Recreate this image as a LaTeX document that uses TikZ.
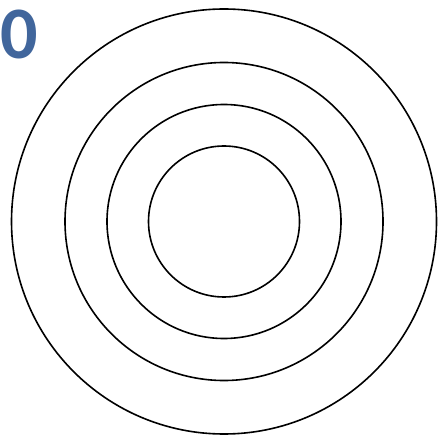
\documentclass[tikz,border=0pt]{standalone}
\usepackage{fontspec}
\newfontfamily\labelfont{Carlito}
\usepackage{tikz}
\definecolor{numblue}{HTML}{41669C}

\begin{document}
\begin{tikzpicture}[x=1pt, y=1pt, ring/.style={line width=1.6pt, black}]
  % page frame
  \useasboundingbox (0,0) rectangle (438,436);
  % number label
  \node[numblue, font=\labelfont\bfseries\fontsize{74}{74}\selectfont, inner sep=0pt] (num) at (19,402) {0};
  % concentric rings
  \coordinate (mid) at (224,214.5);
  \draw[ring] (mid) circle (212.5);
  \draw[ring] (mid) circle (159);
  \draw[ring] (mid) circle (117);
  \draw[ring] (mid) circle (75.5);
\end{tikzpicture}
\end{document}
